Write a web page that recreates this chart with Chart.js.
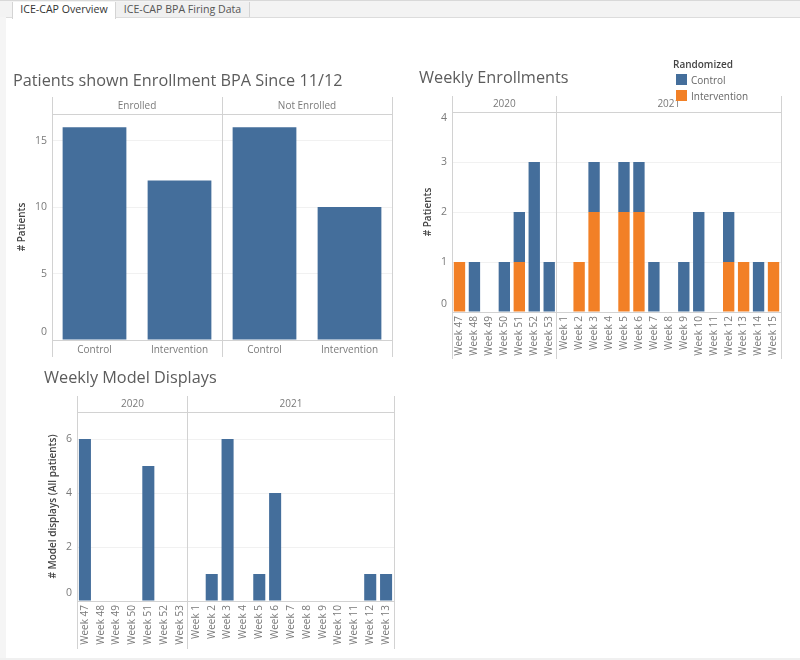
<!DOCTYPE html>
<html><head><meta charset="utf-8">
<script src="https://cdn.jsdelivr.net/npm/chart.js@4/dist/chart.umd.min.js"></script>
<style>
html,body{margin:0;padding:0;background:#fff;overflow:hidden}
#page{position:relative;width:800px;height:660px;overflow:hidden;font-family:"Open Sans",sans-serif}
#page canvas{position:absolute}
.t{position:absolute;white-space:nowrap;line-height:1}
.title{font-size:16.25px;color:#5c5c5c}
.tab{position:absolute;top:2px;height:15px;font-size:10.6px;line-height:15px;color:#444;text-align:center;box-sizing:border-box;border-right:1px solid #d4d4d4}
.sw{position:absolute;width:11px;height:11px}
</style></head><body>
<div id="page">
<div style="position:absolute;left:0;top:0;width:800px;height:17px;background:#f3f3f3;border-bottom:1px solid #dcdcdc;box-sizing:content-box"></div>
<div style="position:absolute;left:0;top:0;width:800px;height:1px;background:#d8d8d8"></div>
<div style="position:absolute;left:0;top:17px;width:6px;height:643px;background:#f5f5f5"></div>
<div style="position:absolute;left:0;top:658px;width:800px;height:2px;background:#f0f0f0"></div>
<div class="tab" style="left:12px;width:104px;height:17px;background:#fff;border-left:1px solid #d4d4d4;color:#333">ICE-CAP Overview</div>
<div class="tab" style="left:116px;width:134px;background:#f0f0f0;color:#555">ICE-CAP BPA Firing Data</div>
<canvas id="c1" width="400" height="270" style="left:0;top:90px"></canvas>
<canvas id="c2" width="400" height="275" style="left:400px;top:90px"></canvas>
<canvas id="c3" width="400" height="270" style="left:0;top:385px"></canvas>
<div class="t title" style="left:13px;top:72px">Patients shown Enrollment BPA Since 11/12</div>
<div class="t title" style="left:419px;top:69px">Weekly Enrollments</div>
<div class="t title" style="left:44px;top:369px">Weekly Model Displays</div>
<div id="legend"></div>
</div>
<script>
const BLUE = '#446e9b', ORANGE = '#f28026';
const TICK = '#7a7a7a', LINE = '#d2d2d2', GRID = '#f1f1f1', AXIS_TITLE = '#444';
const FONT = '"Open Sans", sans-serif';

// Patients shown Enrollment BPA
const groupCats = ['Control', 'Intervention', 'Control', 'Intervention'];
const groupVals = [16, 12, 16, 10];
const groupFacets = ['Enrolled', 'Not Enrolled'];
const groupCounts = [2, 2];

// Weekly Enrollments
const enrollWeeks = ['Week 47','Week 48','Week 49','Week 50','Week 51','Week 52','Week 53','Week 1','Week 2','Week 3','Week 4','Week 5','Week 6','Week 7','Week 8','Week 9','Week 10','Week 11','Week 12','Week 13','Week 14','Week 15'];
const enrollControl = [0,1,0,1,1,3,1,0,0,1,0,1,1,1,0,1,2,0,1,0,1,0];
const enrollIntervention = [1,0,0,0,1,0,0,0,1,2,0,2,2,0,0,0,0,0,1,1,0,1];
const enrollCounts = [7, 15];

// Weekly Model Displays
const modelWeeks = ['Week 47','Week 48','Week 49','Week 50','Week 51','Week 52','Week 53','Week 1','Week 2','Week 3','Week 4','Week 5','Week 6','Week 7','Week 8','Week 9','Week 10','Week 11','Week 12','Week 13'];
const modelVals = [6,0,0,0,5,0,0,0,1,6,0,1,4,0,0,0,0,0,1,1];
const modelCounts = [7, 13];
const years = ['2020', '2021'];

const legendTitle = 'Randomized';
const legendItems = [['Control', BLUE], ['Intervention', ORANGE]];

const facetPlugin = {
  id: 'facets',
  beforeDraw(chart, args, o) {
    if (chart.$nudged) return;
    chart.$nudged = true;
    const y = chart.scales.y;
    y.getLabelItems(chart.chartArea).forEach((it, i) => {
      const v = y.ticks[i].value;
      if (v === 0) it.options.translation[1] -= 8;
      else if (v === y.max) it.options.translation[1] += 6;
    });
  },
  afterDraw(chart, args, o) {
    const { ctx, chartArea: a, scales: { x } } = chart;
    const n = x.ticks.length;
    const step = (a.right - a.left) / n;
    ctx.save();
    ctx.strokeStyle = LINE;
    ctx.lineWidth = 1;
    const v = px => {
      const p = Math.floor(px) + 0.5;
      ctx.beginPath(); ctx.moveTo(p, o.top); ctx.lineTo(p, o.bottom); ctx.stroke();
    };
    const h = py => {
      const p = Math.round(py) + 0.5;
      ctx.beginPath(); ctx.moveTo(a.left, p); ctx.lineTo(a.right, p); ctx.stroke();
    };
    h(a.top); h(a.bottom);
    v(a.left);
    let idx = 0;
    ctx.fillStyle = TICK;
    ctx.font = '10px ' + FONT;
    ctx.textAlign = 'center';
    ctx.textBaseline = 'middle';
    o.labels.forEach((lab, i) => {
      const start = x.getPixelForTick(idx) - step / 2;
      idx += o.counts[i];
      const end = x.getPixelForTick(idx - 1) + step / 2;
      v(end);
      ctx.fillText(lab, (start + end) / 2, (o.top + a.top) / 2 + 0.5);
    });
    ctx.restore();
  }
};

function barChart(id, cats, datasets, cfg) {
  return new Chart(document.getElementById(id), {
    type: 'bar',
    data: { labels: cats, datasets },
    plugins: [facetPlugin],
    options: {
      responsive: false, animation: false,
      devicePixelRatio: 1,
      layout: { padding: cfg.padding },
      plugins: {
        legend: { display: false }, tooltip: { enabled: false }, title: { display: false },
        facets: cfg.facets
      },
      scales: {
        x: {
          stacked: true,
          offset: true,
          grid: { display: false, drawTicks: false },
          border: { display: false },
          afterFit: s => { s.height = cfg.xH; s.paddingLeft = 0; s.paddingRight = 0; },
          ticks: {
            autoSkip: false, padding: 4, color: TICK,
            minRotation: cfg.rot, maxRotation: cfg.rot,
            font: { family: FONT, size: 10 }
          }
        },
        y: {
          stacked: true,
          min: 0, max: cfg.max,
          grid: { color: GRID, drawTicks: false },
          border: { display: false },
          afterFit: s => { s.width = cfg.yW; },
          afterBuildTicks: s => { s.ticks = s.ticks.filter(t => t.value % cfg.step === 0); },
          title: {
            display: true, text: cfg.yTitle, color: AXIS_TITLE, padding: 0,
            font: { family: FONT, size: 10, weight: '600' }
          },
          ticks: {
            stepSize: cfg.step, padding: 5, color: TICK,
            font: { family: FONT, size: 10.5 }
          }
        }
      }
    }
  });
}
const bar = (label, data, color, pct) => ({ label, data, backgroundColor: color, barPercentage: pct, categoryPercentage: 1 });

barChart('c1', groupCats, [bar('Patients', groupVals, BLUE, 0.75)], {
  padding: { top: 24, left: 16, right: 8, bottom: 0 }, xH: 20, yW: 36, max: 17, step: 5, rot: 0,
  yTitle: '# Patients',
  facets: { labels: groupFacets, counts: groupCounts, top: 7, bottom: 267 }
});
barChart('c2', enrollWeeks, [
  bar('Intervention', enrollIntervention, ORANGE, 0.76),
  bar('Control', enrollControl, BLUE, 0.76)
], {
  padding: { top: 22, left: 22, right: 19, bottom: 0 }, xH: 53, yW: 30, max: 4, step: 1, rot: 90,
  yTitle: '# Patients',
  facets: { labels: years, counts: enrollCounts, top: 6, bottom: 269 }
});
barChart('c3', modelWeeks, [bar('# Model displays', modelVals, BLUE, 0.76)], {
  padding: { top: 27, left: 47, right: 6, bottom: 0 }, xH: 54, yW: 30, max: 7, step: 2, rot: 90,
  yTitle: '# Model displays (All patients)',
  facets: { labels: years, counts: modelCounts, top: 11, bottom: 264 }
});

const lg = document.getElementById('legend');
lg.innerHTML = '<div class="t" style="left:673px;top:59px;font-size:10px;font-weight:600;color:#444">' + legendTitle + '</div>' +
  legendItems.map((it, i) =>
    '<div class="sw" style="left:676px;top:' + (74 + i * 16) + 'px;background:' + it[1] + '"></div>' +
    '<div class="t" style="left:691px;top:' + (75 + i * 16) + 'px;font-size:10px;color:#666">' + it[0] + '</div>').join('');
</script>
</body></html>
